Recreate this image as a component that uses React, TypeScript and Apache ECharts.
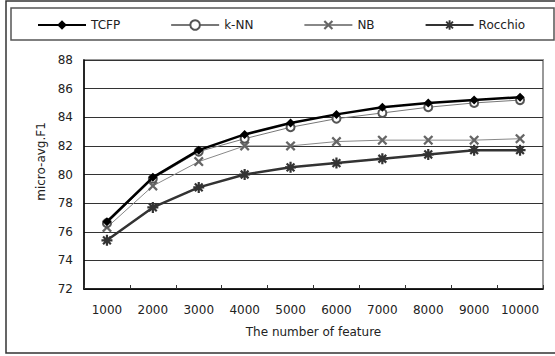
import React, { useEffect, useRef } from "react";
import * as echarts from "echarts";

const categories = ["1000", "2000", "3000", "4000", "5000", "6000", "7000", "8000", "9000", "10000"];
const tcfp = [76.7, 79.8, 81.7, 82.8, 83.6, 84.2, 84.7, 85.0, 85.2, 85.4];
const knn = [76.6, 79.7, 81.6, 82.5, 83.3, 83.9, 84.3, 84.7, 85.0, 85.2];
const nb = [76.3, 79.2, 80.9, 82.0, 82.0, 82.3, 82.4, 82.4, 82.4, 82.5];
const rocchio = [75.4, 77.7, 79.1, 80.0, 80.5, 80.8, 81.1, 81.4, 81.7, 81.7];
const seriesNames = ["TCFP", "k-NN", "NB", "Rocchio"];
const yTicks = { min: 72, max: 88, interval: 2 };

function starPath(n: number, R: number, h: number): string {
  const c = R;
  const pts: string[] = [];
  for (let i = 0; i < n; i++) {
    const t = (i * 2 * Math.PI) / n;
    const dx = Math.cos(t), dy = Math.sin(t);
    const px = -dy, py = dx;
    pts.push(`${(c + R * dx - h * px).toFixed(3)},${(c + R * dy - h * py).toFixed(3)}`);
    pts.push(`${(c + R * dx + h * px).toFixed(3)},${(c + R * dy + h * py).toFixed(3)}`);
    const ti = t + Math.PI / n;
    const ri = h / Math.sin(Math.PI / n);
    pts.push(`${(c + ri * Math.cos(ti)).toFixed(3)},${(c + ri * Math.sin(ti)).toFixed(3)}`);
  }
  return "path://M" + pts.join(" L") + " Z";
}

const xPath = "path://M1.6,0 L5,3.4 L8.4,0 L10,1.6 L6.6,5 L10,8.4 L8.4,10 L5,6.6 L1.6,10 L0,8.4 L3.4,5 L0,1.6 Z";
const asterisk = starPath(8, 5, 1.0);

const FONT = "DejaVu Sans";

export default function App() {
  const ref = useRef<HTMLDivElement>(null);
  useEffect(() => {
    if (!ref.current) return;
    const chart = echarts.init(ref.current, undefined, { renderer: "svg" });
    chart.setOption({
      animation: false,
      backgroundColor: "#fff",
      textStyle: { fontFamily: FONT },
      graphic: [
        {
          type: "rect",
          shape: { x: 6, y: 1, width: 560, height: 352 },
          style: { fill: "none", stroke: "#333", lineWidth: 1.5 },
          silent: true,
        },
        {
          type: "rect",
          shape: { x: 11, y: 8, width: 543, height: 32 },
          style: { fill: "none", stroke: "#555", lineWidth: 1.5 },
          silent: true,
        },
      ],
      legend: {
        data: seriesNames,
        left: 37,
        top: 19,
        padding: 0,
        itemWidth: 48,
        itemHeight: 12,
        itemGap: 50,
        selectedMode: false,
        textStyle: { fontFamily: FONT, fontSize: 12, color: "#222" },
      },
      grid: {
        left: 84,
        right: 12,
        top: 60,
        bottom: 67,
        show: true,
        borderColor: "#999",
        borderWidth: 2,
      },
      xAxis: {
        type: "category",
        data: categories,
        boundaryGap: true,
        name: "The number of feature",
        nameLocation: "middle",
        nameGap: 37,
        nameTextStyle: { fontFamily: FONT, fontSize: 12, color: "#222" },
        axisLine: { lineStyle: { color: "#000", width: 1.5 } },
        axisTick: { show: true, inside: true, length: 4, interval: 0, lineStyle: { color: "#333" } },
        axisLabel: { fontFamily: FONT, fontSize: 12, color: "#222", margin: 15, interval: 0, hideOverlap: false },
        splitLine: { show: false },
      },
      yAxis: {
        type: "value",
        min: yTicks.min,
        max: yTicks.max,
        interval: yTicks.interval,
        name: "micro-avg.F1",
        nameLocation: "middle",
        nameRotate: 90,
        nameGap: 34,
        nameTextStyle: { fontFamily: FONT, fontSize: 12, color: "#222", padding: [0, 0, 0, 26] },
        axisLine: { show: true, lineStyle: { color: "#000", width: 1.5 } },
        axisTick: { show: false },
        axisLabel: { fontFamily: FONT, fontSize: 12, color: "#222", margin: 11 },
        splitLine: { show: true, lineStyle: { color: "#333", width: 1 } },
      },
      series: [
        {
          name: "TCFP",
          type: "line",
          data: tcfp,
          z: 6,
          symbol: "diamond",
          symbolSize: 9,
          itemStyle: { color: "#000" },
          lineStyle: { color: "#000", width: 2.5 },
        },
        {
          name: "k-NN",
          type: "line",
          data: knn,
          z: 5,
          symbol: "emptyCircle",
          symbolSize: 8,
          itemStyle: { color: "#555", borderWidth: 2.2 },
          lineStyle: { color: "#777", width: 1 },
        },
        {
          name: "NB",
          type: "line",
          data: nb,
          z: 4,
          symbol: xPath,
          symbolSize: 10,
          itemStyle: { color: "#666" },
          lineStyle: { color: "#888", width: 1 },
        },
        {
          name: "Rocchio",
          type: "line",
          data: rocchio,
          z: 3,
          symbol: asterisk,
          symbolSize: 11,
          itemStyle: { color: "#333" },
          lineStyle: { color: "#333", width: 2.5 },
        },
      ],
    });
    return () => chart.dispose();
  }, []);
  return (
    <div
      ref={ref}
      style={{ position: "fixed", left: 0, top: 0, width: 555, height: 356 }}
    />
  );
}
